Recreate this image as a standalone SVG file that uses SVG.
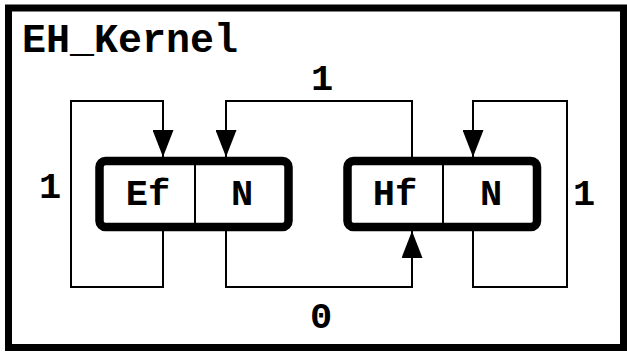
<svg xmlns="http://www.w3.org/2000/svg" width="627" height="354" viewBox="0 0 627 354">
<style>
text{font-family:"Liberation Mono","Courier New",monospace;font-weight:bold;fill:#000}
.t{font-size:40px}
.l{font-size:37px;text-anchor:middle}
.c{fill:none;stroke:#000;stroke-width:2}
.box{fill:#fff;stroke:#000;stroke-width:8.5}
.div{stroke:#000;stroke-width:2}
</style>
<defs>
<marker id="ah" viewBox="0 0 27 21" refX="27" refY="10.5" markerWidth="27" markerHeight="21" markerUnits="userSpaceOnUse" orient="auto">
<path d="M0,0 L27,10.5 L0,21 z" fill="#000"/>
</marker>
</defs>
<rect x="8.5" y="8" width="615" height="339.5" fill="#fff" stroke="#000" stroke-width="7"/>
<text class="t" x="22" y="52">EH_Kernel</text>
<g id="connectors">
<path class="c" d="M163,231 V287 H71 V101 H163 V157" marker-end="url(#ah)"/>
<path class="c" d="M412,157 V101 H226 V157" marker-end="url(#ah)"/>
<path class="c" d="M473,231 V287 H567 V101 H473 V157" marker-end="url(#ah)"/>
<path class="c" d="M226,231 V287 H412 V231" marker-end="url(#ah)"/>
<text class="l" x="50" y="198">1</text>
<text class="l" x="322" y="90">1</text>
<text class="l" x="584" y="205">1</text>
<text class="l" x="321" y="328">0</text>
</g>
<g id="node-ef">
<rect class="box" x="99.5" y="161" width="189" height="66" rx="6"/>
<line class="div" x1="195" y1="161" x2="195" y2="227"/>
<text class="l" x="148" y="205">Ef</text>
<text class="l" x="242" y="205">N</text>
</g>
<g id="node-hf">
<rect class="box" x="347.5" y="161" width="189.5" height="66" rx="6"/>
<line class="div" x1="443" y1="161" x2="443" y2="227"/>
<text class="l" x="395" y="205">Hf</text>
<text class="l" x="491" y="205">N</text>
</g>
</svg>
